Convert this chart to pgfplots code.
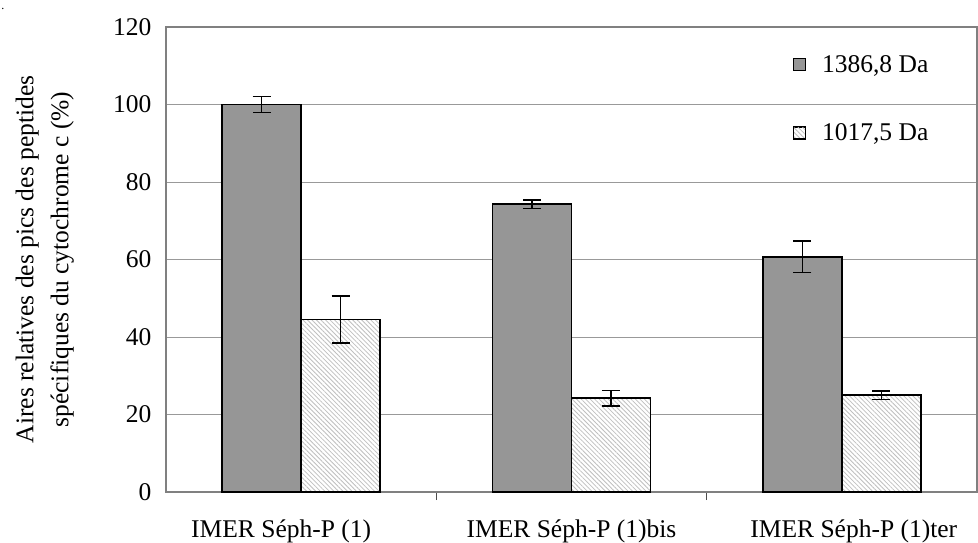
\documentclass[border=0pt]{standalone}
\usepackage{fontspec}
\setmainfont{Liberation Serif}
\usepackage{pgfplots}
\pgfplotsset{compat=1.18}
\usetikzlibrary{patterns.meta}
\definecolor{darkbar}{RGB}{150,150,150}
\begin{document}
\begin{tikzpicture}[font=\fontsize{25.5}{31}\selectfont]
\path[use as bounding box] (-166pt,-50pt) rectangle (812pt,492pt);
\node[font=\fontsize{12}{12}\selectfont, inner sep=0pt] at (-163pt,483pt) {.};
\begin{axis}[
  at={(0pt,0pt)}, anchor=south west,
  scale only axis, width=811pt, height=465pt,
  xmin=-0.5, xmax=2.5, ymin=0, ymax=120,
  ytick={0,20,...,120},
  ytick style={draw=none},
  yticklabel style={xshift=-3pt, font=\fontsize{25.5}{31}\selectfont},
  xtick={0.5,1.5},
  xticklabels={},
  xtick pos=lower,
  tick align=outside,
  major tick length=8pt,
  xtick style={draw=black!70, line width=1pt},
  extra x ticks={0,1,2},
  extra x tick labels={IMER Séph-P (1)\hspace{40pt}\mbox{},IMER Séph-P (1)bis,\mbox{}\hspace{24pt}IMER Séph-P (1)ter},
  extra x tick style={major tick length=0pt, xticklabel style={yshift=-24pt, font=\fontsize{25.5}{31}\selectfont}},
  ymajorgrids,
  grid style={black!40, line width=1pt},
  axis line style={black!50, line width=1.2pt},
  /pgf/number format/assume math mode=true,
  ylabel={Aires relatives des pics des peptides\\spécifiques du cytochrome c (\%)},
  ylabel style={align=center, at={(axis description cs:0,0.5)}, anchor=south, inner sep=0pt, yshift=92pt, font=\fontsize{25.5}{35}\selectfont},
  ybar, bar width=0.292,
  legend style={at={(axis description cs:0.773,0.944)}, anchor=north west, draw=none, fill=none, inner sep=0pt, row sep=46pt, legend cell align=left, nodes={inner sep=2pt, anchor=west}, font=\fontsize{25.5}{31}\selectfont},
  legend image code/.code={\draw[#1, line width=1pt] (0pt,-6pt) rectangle (12pt,6pt);},
  error bars/error bar style={line width=1.5pt, black},
  error bars/error mark options={rotate=90, mark size=9pt, line width=1.5pt, black},
]
\addplot[ybar, bar shift=-0.146, fill=darkbar, draw=black, line width=1.6pt,
  error bars/.cd, y dir=both, y explicit]
  coordinates {(0,100) +- (0,2.1) (1,74.3) +- (0,1.1) (2,60.7) +- (0,4.1)};
\addplot[ybar, bar shift=0.146, draw=black, line width=1.6pt,
  preaction={fill=white},
  pattern={Lines[angle=-45, distance=3.2pt, line width=0.8pt]}, pattern color=black!25,
  error bars/.cd, y dir=both, y explicit]
  coordinates {(0,44.5) +- (0,6.1) (1,24.2) +- (0,2.0) (2,25.0) +- (0,1.1)};
\legend{{\hspace{14pt}1386,8 Da},{\hspace{14pt}1017,5 Da}}
\end{axis}
\end{tikzpicture}
\end{document}
